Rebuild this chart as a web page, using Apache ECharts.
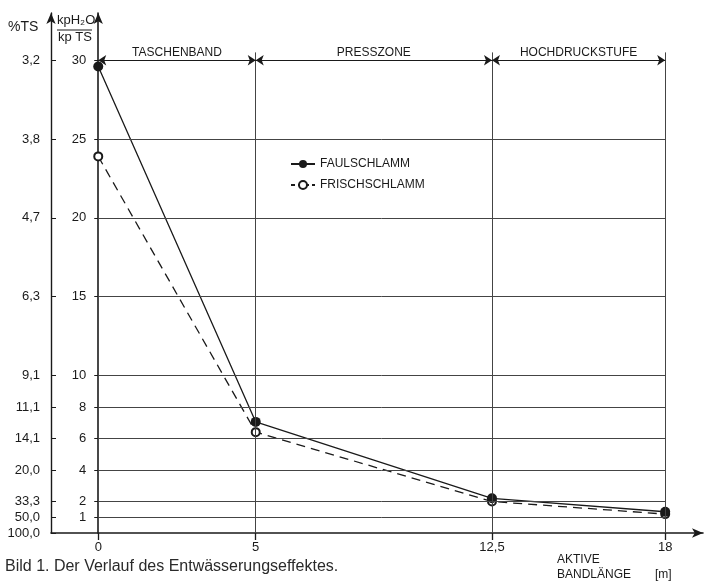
<!DOCTYPE html>
<html>
<head>
<meta charset="utf-8">
<script src="https://cdn.jsdelivr.net/npm/echarts@6/dist/echarts.min.js"></script>
<style>
html,body{margin:0;padding:0;background:#fff;}
#c{width:706px;height:582px;}
</style>
</head>
<body>
<div id="c"></div>
<script>
// ---- data ----
var xPositions = [0, 5, 12.5, 18];
var xTickLabels = ['0', '5', '12,5', '18'];
var yTicks = [1, 2, 4, 6, 8, 10, 15, 20, 25, 30];
var tsTicks = [0, 1, 2, 4, 6, 8, 10, 15, 20, 25, 30];
var tsLabels = ['100,0', '50,0', '33,3', '20,0', '14,1', '11,1', '9,1', '6,3', '4,7', '3,8', '3,2'];
var faulschlamm = [29.6, 7.05, 2.2, 1.35];
var frischschlamm = [23.9, 6.4, 2.0, 1.2];
var zoneNames = ['TASCHENBAND', 'PRESSZONE', 'HOCHDRUCKSTUFE'];
var zoneBounds = [0, 5, 12.5, 18];

var FONT = '"Liberation Sans", "DejaVu Sans", sans-serif';
var INK = '#1a1a1a';

function pairs(xs, ys) { return xs.map(function (x, i) { return [x, ys[i]]; }); }

var gridLines = [];
yTicks.forEach(function (v) {
  if (v === 30) return;
  gridLines.push([{ coord: [0, v] }, { coord: [18, v] }]);
});
[5, 12.5, 18].forEach(function (x) {
  gridLines.push([{ coord: [x, 0] }, { coord: [x, 30.5] }]);
});

var dimLines = [];
for (var i = 0; i < zoneNames.length; i++) {
  dimLines.push([
    { coord: [zoneBounds[i], 30], name: zoneNames[i] },
    { coord: [zoneBounds[i + 1], 30] }
  ]);
}

var GRID_LEFT = 51, X_MIN = -1.5, X_MAX = 19.2, GRID_RIGHT = 3;
var plotW = 706 - GRID_LEFT - GRID_RIGHT;
var zeroOffset = -plotW * (0 - X_MIN) / (X_MAX - X_MIN);

var chart = echarts.init(document.getElementById('c'));
chart.setOption({
  backgroundColor: '#fff',
  animation: false,
  grid: { left: GRID_LEFT, right: GRID_RIGHT, top: 13, bottom: 49 },
  xAxis: {
    type: 'value', min: X_MIN, max: X_MAX,
    axisLine: { onZero: false, symbol: ['none', 'arrow'], symbolSize: [7, 11], lineStyle: { color: INK, width: 1.6 } },
    axisTick: { customValues: xPositions, length: 7, lineStyle: { color: INK, width: 1.3 } },
    axisLabel: {
      customValues: xPositions, margin: 8, color: INK, fontFamily: FONT, fontSize: 13,
      formatter: function (v) { var k = xPositions.indexOf(v); return k >= 0 ? xTickLabels[k] : ''; }
    },
    splitLine: { show: false }
  },
  yAxis: [
    {
      type: 'value', min: 0, max: 33, position: 'left', offset: zeroOffset,
      axisLine: { onZero: false, symbol: ['none', 'arrow'], symbolSize: [7, 11], lineStyle: { color: INK, width: 1.6 } },
      axisTick: { customValues: yTicks, length: 4, lineStyle: { color: INK, width: 1 } },
      axisLabel: { customValues: yTicks, margin: 12, color: INK, fontFamily: FONT, fontSize: 13 },
      splitLine: { show: false }
    },
    {
      type: 'value', min: 0, max: 33, position: 'left', offset: 0,
      axisLine: { show: true, onZero: false, symbol: ['none', 'arrow'], symbolSize: [7, 11], lineStyle: { color: INK, width: 1.4 } },
      axisTick: { customValues: tsTicks, inside: true, length: 5, lineStyle: { color: INK, width: 1 } },
      axisLabel: {
        customValues: tsTicks, margin: 11, color: INK, fontFamily: FONT, fontSize: 13,
        formatter: function (v) { var k = tsTicks.indexOf(v); return k >= 0 ? tsLabels[k] : ''; }
      },
      splitLine: { show: false }
    }
  ],
  legend: {
    data: [
      { name: 'FAULSCHLAMM' },
      { name: 'FRISCHSCHLAMM', lineStyle: { type: [4, 3] } }
    ],
    orient: 'vertical', left: 285, top: 153, itemGap: 9, itemWidth: 24, itemHeight: 10,
    textStyle: { fontFamily: FONT, fontSize: 12, color: INK }
  },
  series: [
    {
      name: 'grid', type: 'line', data: [], silent: true,
      markLine: {
        silent: true, symbol: ['none', 'none'], label: { show: false },
        lineStyle: { color: '#444', width: 1, type: 'solid' },
        data: gridLines
      }
    },
    {
      name: 'dim', type: 'line', data: [], silent: true,
      markLine: {
        silent: true, symbol: ['arrow', 'arrow'], symbolSize: 8,
        label: {
          show: true, position: 'insideMiddleTop', distance: 2, formatter: '{b}',
          color: INK, fontFamily: FONT, fontSize: 12
        },
        lineStyle: { color: INK, width: 1, type: 'solid' },
        data: dimLines
      }
    },
    {
      name: 'FRISCHSCHLAMM', type: 'line', data: pairs(xPositions, frischschlamm),
      symbol: 'emptyCircle', symbolSize: 8, z: 3,
      lineStyle: { color: INK, width: 1.3, type: [9, 6] },
      itemStyle: { color: INK, borderColor: INK, borderWidth: 1.2 }
    },
    {
      name: 'FAULSCHLAMM', type: 'line', data: pairs(xPositions, faulschlamm),
      symbol: 'circle', symbolSize: 10, z: 4,
      lineStyle: { color: INK, width: 1.3 },
      itemStyle: { color: INK }
    }
  ],
  graphic: [
    { type: 'text', left: 8, top: 20, style: { text: '%TS', fill: INK, font: '14px ' + FONT } },
    { type: 'text', left: 57, top: 14, style: { text: 'kpH\u2082O', fill: INK, font: '13px ' + FONT } },
    { type: 'line', shape: { x1: 57, y1: 30, x2: 92, y2: 30 }, style: { stroke: INK, lineWidth: 1.2 } },
    { type: 'text', left: 58, top: 31, style: { text: 'kp TS', fill: INK, font: '13px ' + FONT } },
    { type: 'text', left: 557, top: 554, style: { text: 'AKTIVE', fill: INK, font: '12px ' + FONT } },
    { type: 'text', left: 557, top: 569, style: { text: 'BANDL\u00c4NGE', fill: INK, font: '12px ' + FONT } },
    { type: 'text', left: 655, top: 569, style: { text: '[m]', fill: INK, font: '12px ' + FONT } },
    { type: 'text', left: 5, top: 559, style: { text: 'Bild 1. Der Verlauf des Entw\u00e4sserungseffektes.', fill: '#2a2a2a', font: '16px ' + FONT } }
  ]
});
</script>
</body>
</html>
